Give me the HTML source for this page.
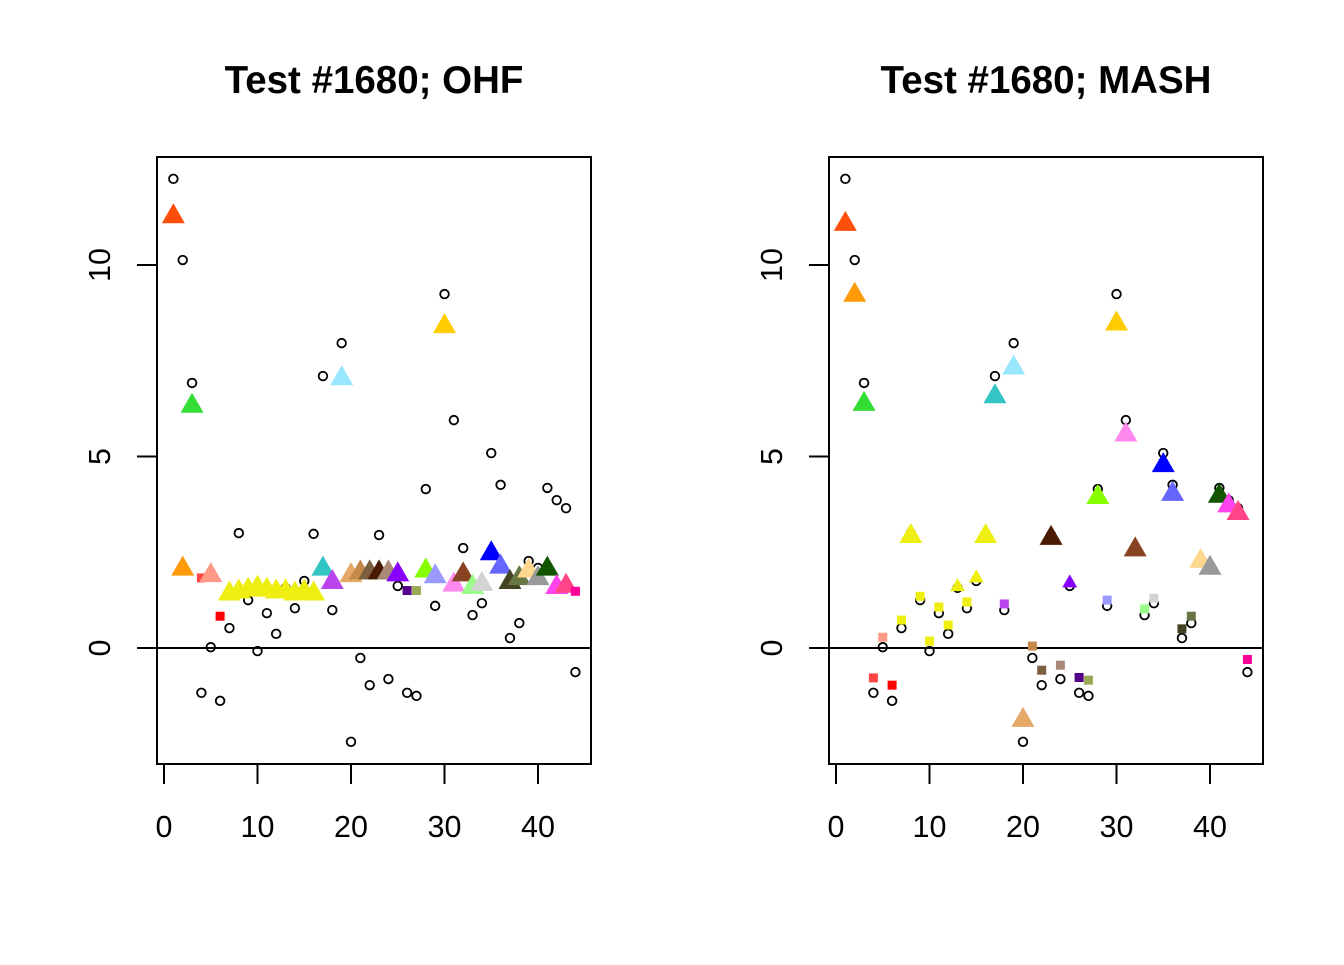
<!DOCTYPE html>
<html><head><meta charset="utf-8"><style>
html,body{margin:0;padding:0;background:#fff}
svg text{font-family:"Liberation Sans",Arial,sans-serif}
</style></head><body>
<svg id="chart" width="1344" height="960" viewBox="0 0 1344 960" xmlns="http://www.w3.org/2000/svg"></svg>
<script>
const observed = [12.25,10.13,6.92,-1.17,0.02,-1.38,0.52,3.0,1.25,-0.08,0.91,0.37,1.57,1.04,1.75,2.98,7.1,0.99,7.96,-2.45,-0.26,-0.97,2.95,-0.81,1.62,-1.17,-1.25,4.15,1.1,9.24,5.95,2.61,0.86,1.17,5.09,4.26,0.26,0.65,2.27,2.09,4.18,3.86,3.65,-0.63];
const colors = ["#FF4F0A","#FF9A0A","#33DD33","#FF4444","#FF9988","#FF0000","#EEEE11","#EEEE11","#EEEE11","#EEEE11","#EEEE11","#EEEE11","#EEEE11","#EEEE11","#EEEE11","#EEEE11","#33C4C4","#BB44EE","#99E6FF","#E5A866","#C48A4A","#7A6040","#4A1A00","#AA8877","#8800FF","#550088","#99AA55","#88FF00","#9999FF","#FFCC00","#FF88EE","#884422","#99FF88","#D3D3D3","#0000FF","#6666FF","#444422","#667744","#FFD890","#999999","#115500","#FF44EE","#FF4488","#FF0099"];
const ohfValues = [11.3,2.1,6.35,1.83,1.93,0.83,1.45,1.5,1.55,1.6,1.55,1.5,1.5,1.45,1.5,1.45,2.1,1.75,7.07,1.93,2.0,2.0,2.0,2.0,1.95,1.5,1.5,2.05,1.9,8.43,1.68,1.95,1.62,1.7,2.5,2.15,1.75,1.85,2.05,1.85,2.1,1.62,1.65,1.48];
const ohfShapes = ["T","T","T","S","T","S","T","T","T","T","T","T","T","T","T","T","T","T","T","T","T","T","T","T","T","S","S","T","T","T","T","T","T","T","T","T","T","T","T","T","T","T","T","S"];
const mashValues = [11.1,9.25,6.4,-0.78,0.28,-0.97,0.73,2.95,1.35,0.18,1.07,0.6,1.62,1.2,1.85,2.95,6.6,1.15,7.35,-1.85,0.05,-0.58,2.9,-0.45,1.72,-0.77,-0.84,3.97,1.25,8.5,5.6,2.6,1.02,1.3,4.8,4.05,0.5,0.83,2.3,2.12,4.0,3.75,3.55,-0.3];
const mashShapes = ["T","T","T","S","S","S","S","T","S","S","S","S","t","S","t","T","T","S","T","T","S","S","T","S","t","S","S","T","S","T","T","T","S","S","T","T","S","S","T","T","T","T","T","S"];
const xTicks = [0,10,20,30,40];
const yTicks = [0,5,10];

const NS="http://www.w3.org/2000/svg";
const svg=document.getElementById('chart');
function mk(tag,attrs,parent){const e=document.createElementNS(NS,tag);for(const k in attrs)e.setAttribute(k,attrs[k]);(parent||svg).appendChild(e);return e;}

function panel(left,title,values,shapes,pname){
  const g=mk('g',{});
  
  
  const right=left+434, top=157, bottom=764;
  const x0=left+7, xs=9.35;
  const xScale=v=>x0+v*xs;
  const yScale=v=>648-v*38.3;
  const t=mk('text',{x:(left+right)/2,y:93,'text-anchor':'middle','font-size':'38.5','font-weight':'bold'},g);
  t.textContent=title;
  
  
  const box=mk('rect',{x:left,y:top,width:434,height:607,fill:'none',stroke:'#000','stroke-width':2},g);
  
  
  const zl=mk('line',{x1:left,x2:right,y1:yScale(0),y2:yScale(0),stroke:'#000','stroke-width':2},g);
  
  
  xTicks.forEach(v=>{
    const tk=mk('line',{x1:xScale(v),x2:xScale(v),y1:bottom,y2:bottom+20,stroke:'#000','stroke-width':2},g);
    
    
    const tl=mk('text',{x:xScale(v),y:837,'text-anchor':'middle','font-size':'30.5'},g);
    tl.textContent=v;
    
    
  });
  yTicks.forEach(v=>{
    const tk=mk('line',{x1:left-20,x2:left,y1:yScale(v),y2:yScale(v),stroke:'#000','stroke-width':2},g);
    
    
    const tl=mk('text',{x:0,y:0,'text-anchor':'middle','font-size':'30.5',transform:`translate(${left-47},${yScale(v)}) rotate(-90)`},g);
    tl.textContent=v;
    
    
  });
  observed.forEach((v,i)=>{
    const c=mk('circle',{cx:xScale(i+1),cy:yScale(v),r:4.3,fill:'none',stroke:'#000','stroke-width':1.8},g);
    
    
  });
  values.forEach((v,i)=>{
    const cx=xScale(i+1), cy=yScale(v), s=shapes[i];
    let el;
    if(s==='S'){
      el=mk('rect',{x:cx-4.5,y:cy-4.5,width:9,height:9,fill:colors[i]},g);
    } else {
      const w=s==='T'?11.5:7.5, h=s==='T'?20:13;
      el=mk('polygon',{points:`${cx-w},${cy+h*0.4} ${cx+w},${cy+h*0.4} ${cx},${cy-h*0.6}`,fill:colors[i]},g);
    }
    
    
  });
}
panel(157,'Test #1680; OHF',ohfValues,ohfShapes,'ohf');
panel(829,'Test #1680; MASH',mashValues,mashShapes,'mash');
</script>
</body></html>
